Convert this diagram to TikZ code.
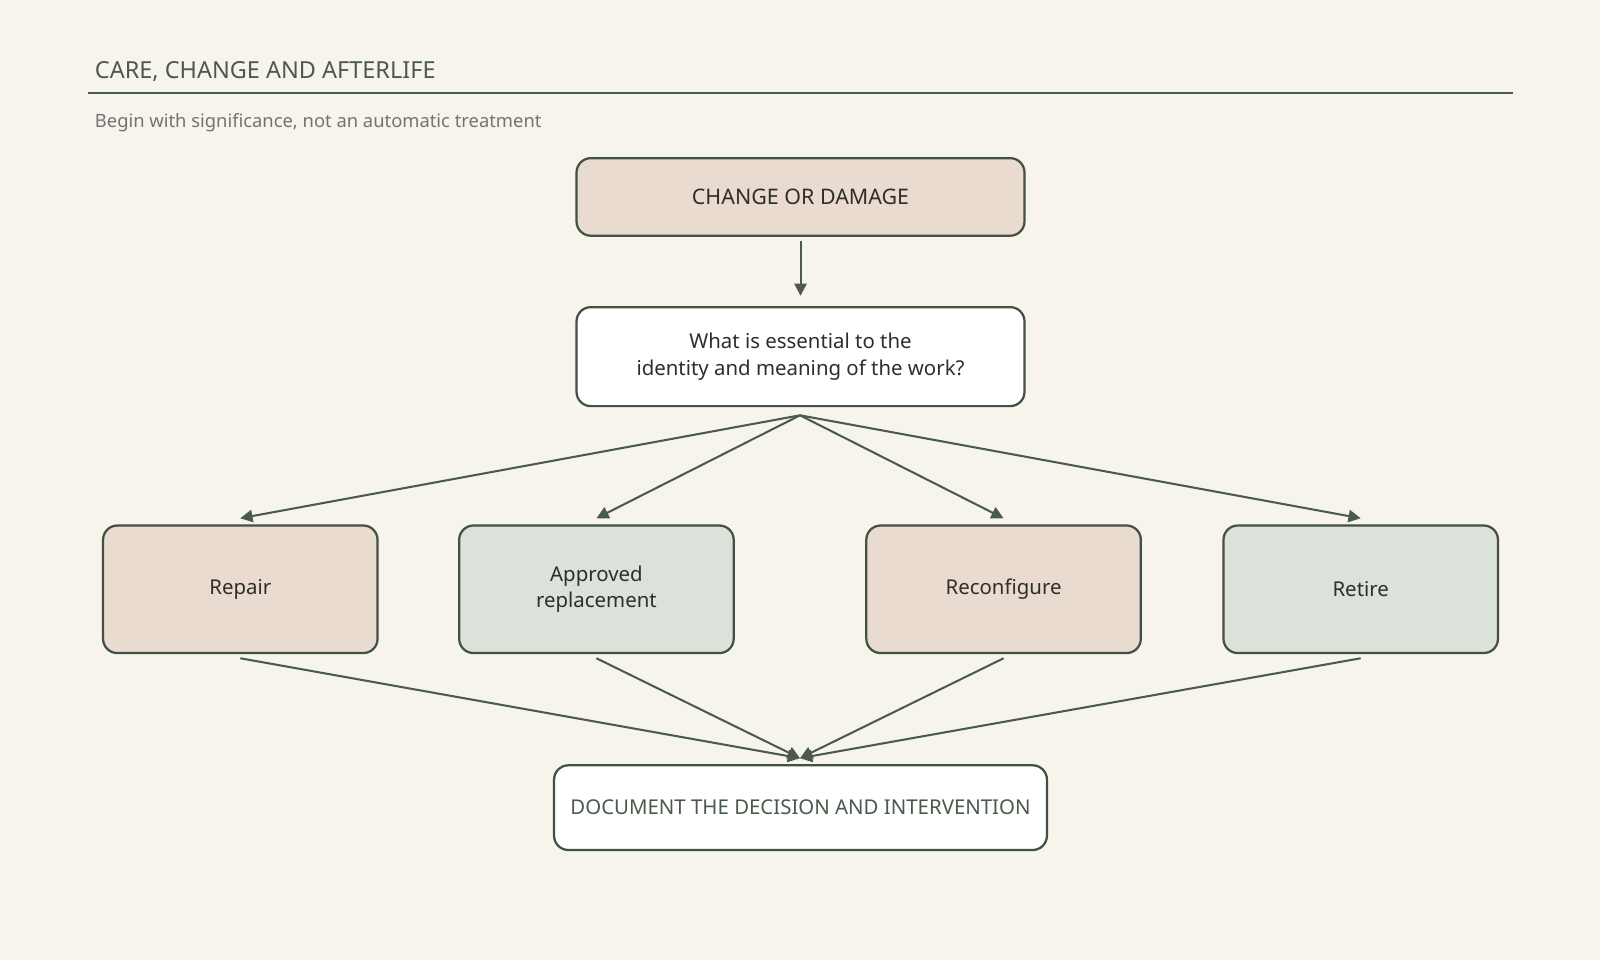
\documentclass[tikz,border=0pt]{standalone}
\usepackage{fontspec}
\setmainfont{Noto Sans}
\usetikzlibrary{arrows.meta}
\definecolor{bg}{HTML}{F7F4EC}
\definecolor{dk}{HTML}{4A5A4C}
\definecolor{pk}{HTML}{E9DBD0}
\definecolor{gn}{HTML}{DCE1D9}
\definecolor{tx}{HTML}{2E2E2A}
\begin{document}
\begin{tikzpicture}[x=0.5pt,y=-0.5pt,
  box/.style={draw=dk!90!black,line width=1.1pt,rounded corners=7pt,inner sep=0pt,align=center,font=\bfseries\fontsize{10}{13}\selectfont,text=tx},
  arr/.style={draw=dk,line width=1pt,-{Triangle[length=6pt,width=6pt]}}]
\fill[bg] (0,0) rectangle (1568,941);
\useasboundingbox (0,0) rectangle (1568,941);
\node[anchor=west,text=dk,font=\bfseries\fontsize{11.5}{14}\selectfont] (title) at (86,70) {CARE, CHANGE AND AFTERLIFE};
\draw[dk,line width=0.9pt] (86,91) -- (1483,91);
\node[anchor=west,text=black!55,font=\fontsize{9}{11}\selectfont] (sub) at (86,120) {Begin with significance, not an automatic treatment};
\node[box,fill=pk,minimum width=219.5pt,minimum height=38pt,font=\bfseries\fontsize{10.5}{13}\selectfont] (chg) at (784.5,193) {\raisebox{-3pt}{CHANGE OR DAMAGE}};
\node[box,fill=white,minimum width=219.5pt,minimum height=48.5pt] (q) at (784.5,349.5) {What is essential to the\\identity and meaning of the work?};
\node[box,fill=pk,minimum width=134.5pt,minimum height=62.5pt] (r1) at (235.5,577.5) {Repair};
\node[box,fill=gn,minimum width=134.5pt,minimum height=62.5pt] (r2) at (584.5,577.5) {Approved\\replacement};
\node[box,fill=pk,minimum width=134.5pt,minimum height=62.5pt] (r3) at (983.5,577.5) {Reconfigure};
\node[box,fill=gn,minimum width=134.5pt,minimum height=62.5pt] (r4) at (1333.5,577.5) {\raisebox{-2pt}{Retire}};
\node[box,fill=white,minimum width=241.5pt,minimum height=41.5pt,text=dk,font=\bfseries\fontsize{10}{13}\selectfont] (doc) at (784.5,791.5) {\hspace*{-2pt}DOCUMENT THE DECISION AND INTERVENTION\hspace*{-2pt}};
\coordinate (qb) at (784,407);
\coordinate (dt) at (784,743);
\draw[arr] ([yshift=-2pt]chg.south) -- ([yshift=5pt]q.north);
\foreach \n in {r1,r2,r3,r4}{
  \draw[arr] (qb) -- ([yshift=3pt]\n.north);
  \draw[arr] ([yshift=-2pt]\n.south) -- (dt);
}
\end{tikzpicture}
\end{document}
